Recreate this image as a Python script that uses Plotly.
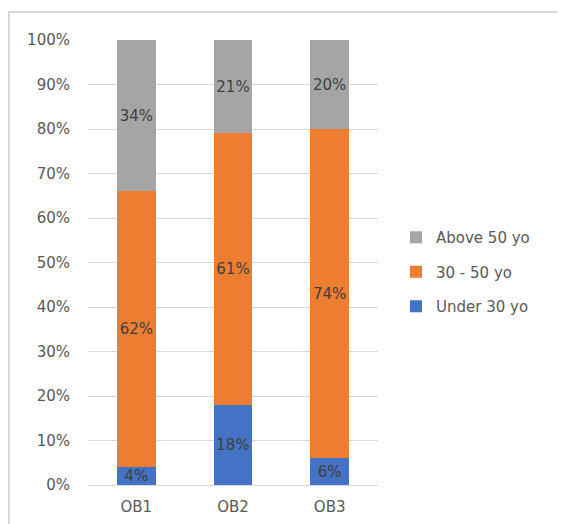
import plotly.graph_objects as go

categories = ["OB1", "OB2", "OB3"]
under30 = [4, 18, 6]
mid = [62, 61, 74]
above50 = [34, 21, 20]
series_names = ["Under 30 yo", "30 - 50 yo", "Above 50 yo"]
colors = ["#4472C4", "#ED7D31", "#A5A5A5"]
yticks = [0, 10, 20, 30, 40, 50, 60, 70, 80, 90, 100]

FONT = "DejaVu Sans"
fig = go.Figure()
for i, (name, vals, col) in enumerate(zip(series_names, [under30, mid, above50], colors)):
    fig.add_trace(go.Bar(
        x=categories, y=vals, name=name, marker=dict(color=col, line=dict(width=0)),
        text=[f"{v}%" for v in vals], textposition="inside", insidetextanchor="middle",
        textangle=0, textfont=dict(family=FONT, size=15, color="#404040"),
        legendgroup=f"g{i}", legendrank=1000 - i, constraintext="none",
    ))

OFF = 8  # page offset of the figure div
W, H = 566, 524
L, R, T, B = 88 - OFF, W - (378 - OFF), 40 - OFF, H - (485 - OFF)
pw, ph = W - L - R, H - T - B

def px_x(p):
    return (p - OFF - L) / pw

def px_y(p):
    return (H - B - (p - OFF)) / ph

fig.update_layout(
    width=W, height=H, barmode="stack", bargap=0.6,
    margin=dict(l=L, r=R, t=T, b=B),
    paper_bgcolor="white", plot_bgcolor="white",
    font=dict(family=FONT, size=15, color="#595959"),
    uniformtext=dict(mode=False),
    xaxis=dict(showgrid=False, showline=True, linecolor="#D9D9D9", linewidth=1,
               tickfont=dict(family=FONT, size=15, color="#595959"), ticks="",
               ticklabelstandoff=8),
    yaxis=dict(range=[0, 100], tickvals=yticks, ticktext=[f"{v}%" for v in yticks],
               showgrid=True, gridcolor="#D9D9D9", gridwidth=1, zeroline=False,
               tickfont=dict(family=FONT, size=15, color="#595959"), ticks="",
               ticklabelstandoff=17),
    legend=dict(x=px_x(396), y=px_y(272), xanchor="left", yanchor="middle",
                traceorder="grouped", tracegroupgap=12,
                font=dict(family=FONT, size=15, color="#595959"),
                itemwidth=30, bgcolor="rgba(0,0,0,0)"),
    shapes=[
        dict(type="line", xref="paper", yref="paper", x0=px_x(8), x1=px_x(700),
             y0=px_y(12), y1=px_y(12), line=dict(color="#D9D9D9", width=2)),
        dict(type="line", xref="paper", yref="paper", x0=px_x(9), x1=px_x(9),
             y0=px_y(12), y1=px_y(700), line=dict(color="#D9D9D9", width=2)),
    ],
)
fig.write_html("out.html")
